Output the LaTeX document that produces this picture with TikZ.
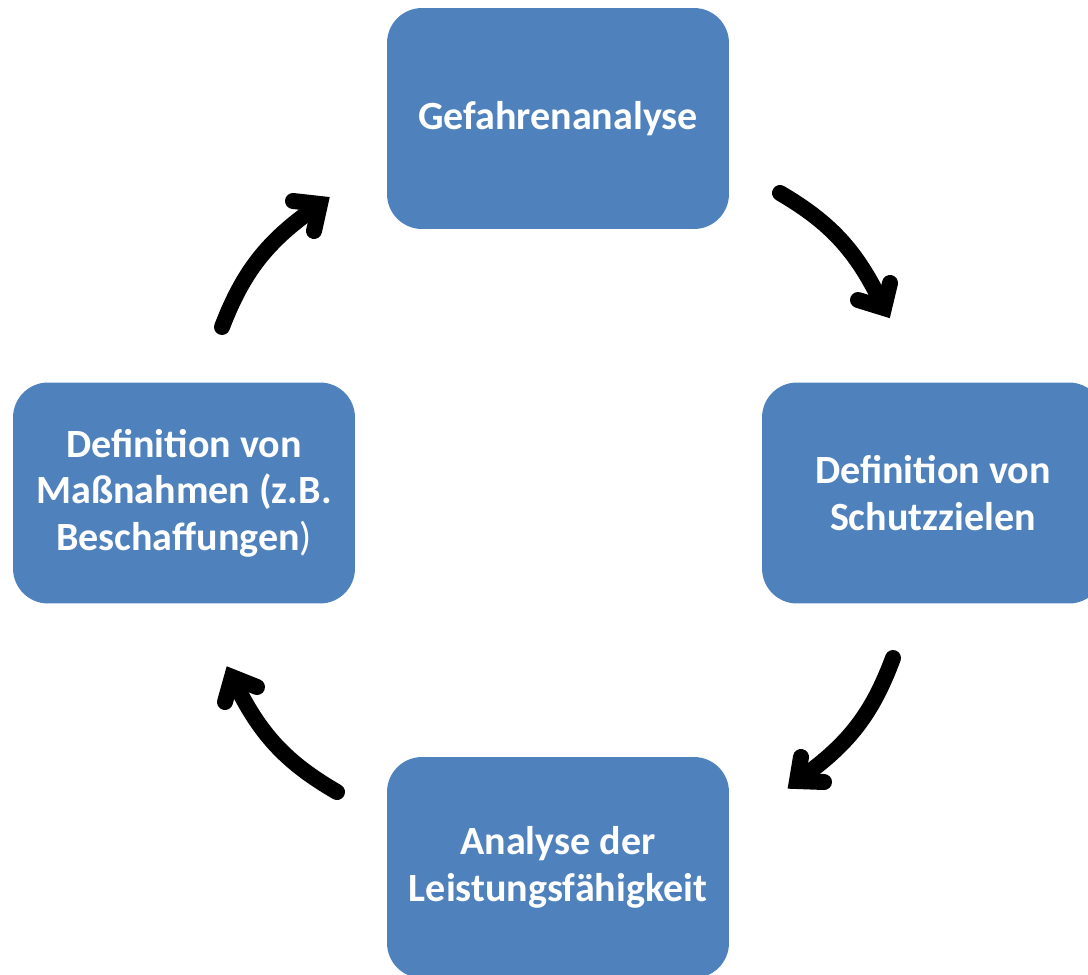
\documentclass[tikz,border=0pt]{standalone}
\usepackage{fontspec}
\setmainfont{Carlito}
\begin{document}
\begin{tikzpicture}[x=0.02cm,y=-0.02cm,
  stage/.style={fill=boxblue,draw=none,rounded corners=0.7cm,minimum width=6.84cm,minimum height=4.42cm,
    text=white,font=\fontsize{22.8}{26.5}\selectfont\bfseries,align=center,inner sep=0pt},
  shaft/.style={line width=0.32cm,line cap=round},
  head/.style={line width=0.32cm,line cap=round,line join=miter,miter limit=10}]
\definecolor{boxblue}{HTML}{4F81BD}
\useasboundingbox (0,0) rectangle (1088,974);
\clip (0,0) rectangle (1088,974);
\node[stage] (top) at (558,118.5) {Gefahrenanalyse};
\node[stage] (right) at (933,493) {Definition von\\Schutzzielen};
\node[stage] (bottom) at (558,867.5) {Analyse der\\Leistungsfähigkeit};
\node[stage] (left) at (184,493) {Definition von\\Maßnahmen (z.B.\\Beschaffungen\textmd{)}};
% arrow 1: left -> top
\coordinate (a1s) at (222,327); \coordinate (a1e) at (316,207); \coordinate (a1t) at (320,204);
\coordinate (a1p) at (293,201); \coordinate (a1q) at (314,231);
\draw[shaft] (a1s) to[bend left=17] (a1e);
\draw[head] (a1p) -- (a1t) -- (a1q);
% arrow 2: top -> right
\coordinate (a2s) at (780,193); \coordinate (a2e) at (882,304); \coordinate (a2t) at (884,308);
\coordinate (a2p) at (890,283); \coordinate (a2q) at (858,300);
\draw[shaft] (a2s) to[bend left=17] (a2e);
\draw[head] (a2p) -- (a2t) -- (a2q);
% arrow 3: right -> bottom
\coordinate (a3s) at (893,658); \coordinate (a3e) at (801,778); \coordinate (a3t) at (797,781);
\coordinate (a3p) at (801,757); \coordinate (a3q) at (824,782);
\draw[shaft] (a3s) to[bend left=17] (a3e);
\draw[head] (a3p) -- (a3t) -- (a3q);
% arrow 4: bottom -> left
\coordinate (a4s) at (337,792); \coordinate (a4e) at (234,681); \coordinate (a4t) at (232,677);
\coordinate (a4p) at (225,702); \coordinate (a4q) at (257,687);
\draw[shaft] (a4s) to[bend left=17] (a4e);
\draw[head] (a4p) -- (a4t) -- (a4q);
\end{tikzpicture}
\end{document}
